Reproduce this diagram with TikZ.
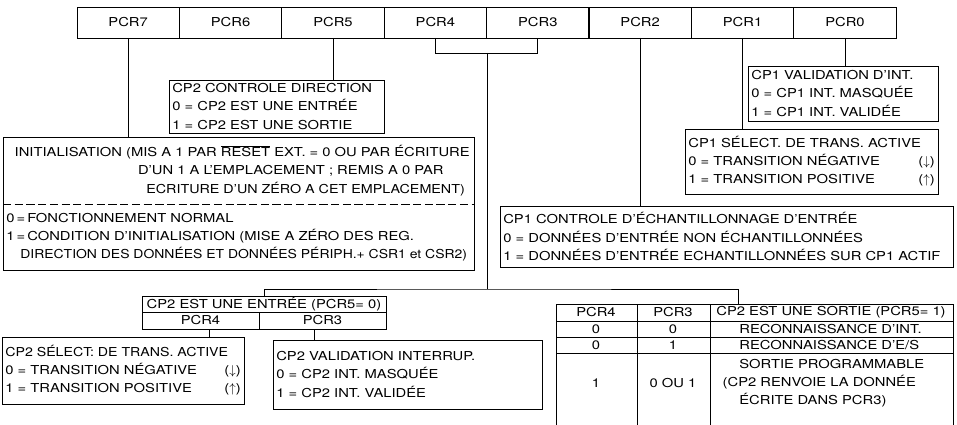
\documentclass[tikz,border=0pt]{standalone}
\usepackage{fontspec}
\usepackage{graphicx}
\setmainfont{TeX Gyre Heros}[FakeStretch=1.2]
\usetikzlibrary{calc}
\newcommand{\squeeze}[2]{\scalebox{#1}[1]{#2}}

\begin{document}
\begin{tikzpicture}[x=0.03cm,y=-0.03cm,line width=0.8pt,
  font=\fontsize{10.5}{15.5}\selectfont,
  reg/.style={draw,minimum width=3.07cm,minimum height=0.93cm,inner sep=0pt,outer sep=0pt,anchor=north west},
  info/.style={draw,anchor=north west,align=left,inner xsep=0.1cm,inner ysep=0pt,outer sep=0pt},
  cell/.style={draw,anchor=north west,inner sep=0pt,outer sep=0pt,minimum height=0.51cm}]
\fill[white] (0,0) rectangle (957,425);
\useasboundingbox (0,0) rectangle (957,425);
\foreach \i [count=\k from 0] in {7,6,...,0}
  \node[reg] (pcr\i) at ({77+102.4*\k},7) {PCR\i};

\node[info,text width=6.25cm,minimum height=1.59cm] (ctrl) at (169,80)
  {CP2 CONTROLE DIRECTION\\0 = CP2 EST UNE ENTRÉE\\1 = CP2 EST UNE SORTIE};
\node[info,text width=5.5cm,minimum height=1.65cm] (val1) at (748,66)
  {CP1 VALIDATION D'INT.\\0 = CP1 INT. MASQUÉE\\1 = CP1 INT. VALIDÉE};
\node[info,text width=7.39cm,minimum height=1.95cm] (sel1) at (685,129)
  {CP1 SÉLECT. DE TRANS. ACTIVE\\0 = TRANSITION NÉGATIVE\hfill($\downarrow$)\\1 = TRANSITION POSITIVE\hfill($\uparrow$)};
\node[info,draw=none,text width=13.93cm,minimum height=2.01cm] (inithead) at (3,137)
  {\hspace*{0.25cm}INITIALISATION (MIS A 1 PAR $\overline{\mbox{RESET}}$ EXT. = 0 OU PAR ÉCRITURE\\
   \hspace*{3.95cm}D'UN 1 A L'EMPLACEMENT ; REMIS A 0 PAR\\
   \hspace*{4.2cm}\squeeze{0.97}{ECRITURE D'UN ZÉRO A CET EMPLACEMENT)}};
\node[info,draw=none,text width=13.93cm,minimum height=1.98cm] (initval) at (inithead.south west)
  {0\,=\,FONCTIONNEMENT NORMAL\\1\,=\,CONDITION D'INITIALISATION (MISE A ZÉRO DES REG.\\
   \hspace*{0.42cm}\squeeze{0.945}{DIRECTION DES DONNÉES ET DONNÉES PÉRIPH.+ CSR1 et CSR2)}};
\draw (inithead.north west) rectangle (initval.south east);
\draw[dash pattern=on 7pt off 3pt] (inithead.south west) -- (inithead.south east);
\node[info,text width=13.39cm,minimum height=1.83cm] (ech1) at (500,206)
  {CP1 CONTROLE D'ÉCHANTILLONNAGE D'ENTRÉE\\0 = DONNÉES D'ENTRÉE NON ÉCHANTILLONNÉES\\1 = DONNÉES D'ENTRÉE ECHANTILLONNÉES SUR CP1 ACTIF};

\node[cell,minimum width=7.32cm,minimum height=0.48cm] (ent) at (142,296) {CP2 EST UNE ENTRÉE (PCR5= 0)};
\node[cell,minimum width=3.51cm] (ent4) at (ent.south west) {PCR4};
\node[cell,minimum width=3.81cm] (ent3) at (ent4.north east) {PCR3};
\node[info,text width=7.06cm,minimum height=2.01cm] (sel2) at (2,337)
  {\squeeze{0.96}{CP2 SÉLECT: DE TRANS. ACTIVE}\\0 = TRANSITION NÉGATIVE\hfill($\downarrow$)\\1 = TRANSITION POSITIVE\hfill($\uparrow$)};
\node[info,text width=7.87cm,minimum height=2.07cm] (val2) at (273,340)
  {CP2 VALIDATION INTERRUP.\\0 = CP2 INT. MASQUÉE\\1 = CP2 INT. VALIDÉE};

\foreach \y in {304,321,337,353} \draw (556,\y) -- (953,\y);
\foreach \x in {556,637,710,953} \draw (\x,304) -- (\x,432);
\node (s4) at (596,312.5) {PCR4};
\node (s3) at (673,312.5) {PCR3};
\node (ss) at (831,312.5) {CP2 EST UNE SORTIE (PCR5= 1)};
\node (a4) at (596,329) {0};
\node (a3) at (673,329) {0};
\node[anchor=west] (as) at (735,329) {RECONNAISSANCE D'INT.};
\node (b4) at (596,345) {0};
\node (b3) at (673,345) {1};
\node[anchor=west] (bs) at (735,345) {RECONNAISSANCE D'E/S};
\node (c4) at (596,383) {1};
\node (c3) at (673,383) {0 OU 1};
\node[anchor=west,align=left] (cs) at (735,383)
  {SORTIE PROGRAMMABLE\\\hspace*{-0.5cm}(CP2 RENVOIE LA DONNÉE\\ÉCRITE DANS PCR3)};

\coordinate (brk) at (487,53);
\coordinate (fork) at (487,289);
\coordinate (sortie) at (738,304);
\coordinate (e4) at ($(ent4.south west)!0.58!(ent4.south east)$);
\coordinate (e3) at ($(ent3.south west)!0.44!(ent3.south east)$);
\draw (pcr7.south) -- (pcr7.south |- inithead.north);
\draw (pcr5.south) -- (pcr5.south |- ctrl.north);
\draw (pcr2.south) -- (pcr2.south |- ech1.north);
\draw (pcr1.south) -- (pcr1.south |- sel1.north);
\draw (pcr0.south) -- (pcr0.south |- val1.north);
\draw (pcr4.south) |- (pcr3.south |- brk) -- (pcr3.south);
\draw (brk) -- (fork);
\draw (ent.north) |- (fork) -| (sortie);
\draw (e4) -- (e4 |- sel2.north);
\draw (e3) -- (e3 |- val2.north);
\end{tikzpicture}
\end{document}
